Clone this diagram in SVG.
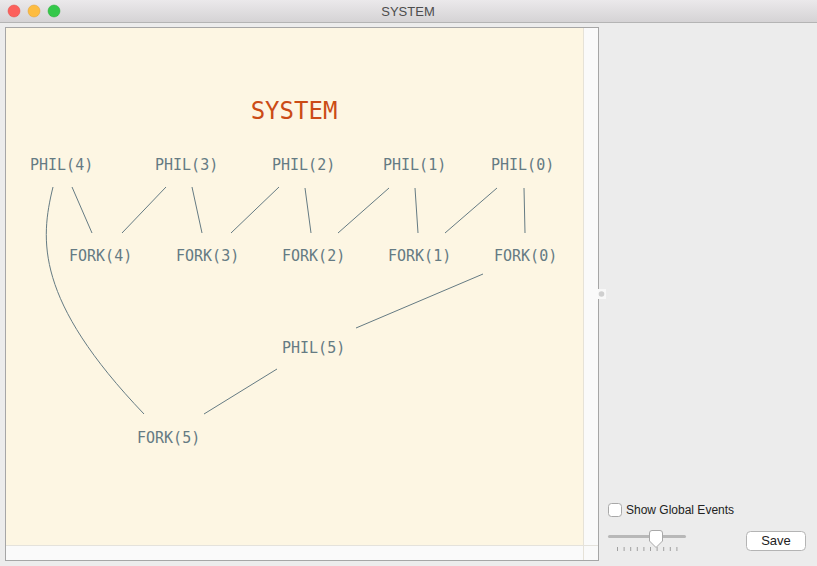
<svg xmlns="http://www.w3.org/2000/svg" width="817" height="566" viewBox="0 0 817 566">
<style>
.node{font-family:"DejaVu Sans Mono","Liberation Mono",monospace;font-size:15px;fill:#657b83}
.title{font-family:"DejaVu Sans Mono","Liberation Mono",monospace;font-size:24px;fill:#cb4b16}
.edge{fill:none;stroke:#657b83;stroke-width:1}
.ui{font-family:"Liberation Sans",Arial,sans-serif;fill:#222}
</style>
<defs>
<linearGradient id="tb" x1="0" y1="0" x2="0" y2="1">
<stop offset="0" stop-color="#ebe9eb"/>
<stop offset="1" stop-color="#d5d3d5"/>
</linearGradient>
</defs>
<!-- window -->
<rect x="0" y="0" width="817" height="566" fill="#ececec"/>
<rect x="0" y="0" width="817" height="22" fill="url(#tb)"/>
<line x1="0" y1="22.5" x2="817" y2="22.5" stroke="#b4b4b4"/>
<circle cx="14" cy="11" r="6" fill="#fc605c" stroke="#de4a45" stroke-width="0.5"/>
<circle cx="34" cy="11" r="6" fill="#fdbc40" stroke="#de9f34" stroke-width="0.5"/>
<circle cx="54" cy="11" r="6" fill="#34c84a" stroke="#27aa35" stroke-width="0.5"/>
<text x="408" y="16" text-anchor="middle" class="ui" font-size="13" fill="#4d4d4d" style="fill:#4d4d4d">SYSTEM</text>
<!-- panel -->
<rect x="5.5" y="27.5" width="593" height="533" fill="#fafafa" stroke="#a6a6a6"/>
<rect x="6" y="28" width="577" height="517" fill="#fdf6e3"/>
<line x1="583.5" y1="28" x2="583.5" y2="560" stroke="#e6e2d8"/>
<line x1="6" y1="545.5" x2="598" y2="545.5" stroke="#e4e2dc"/>
<rect x="598" y="289" width="8" height="10" fill="#f8f8f8"/>
<circle cx="601.5" cy="294" r="2.8" fill="#cfcfcf"/>
<!-- diagram -->
<text x="294" y="119" text-anchor="middle" class="title">SYSTEM</text>
<g id="connectors">
<line class="edge" x1="72" y1="187" x2="92" y2="233"/>
<line class="edge" x1="166" y1="187" x2="122" y2="233"/>
<line class="edge" x1="192" y1="187" x2="202" y2="233"/>
<line class="edge" x1="279" y1="187" x2="231" y2="233"/>
<line class="edge" x1="305" y1="188" x2="311" y2="233"/>
<line class="edge" x1="389" y1="188" x2="338" y2="233"/>
<line class="edge" x1="415" y1="188" x2="418" y2="233"/>
<line class="edge" x1="497" y1="188" x2="445" y2="233"/>
<line class="edge" x1="524" y1="188" x2="525" y2="233"/>
<line class="edge" x1="483" y1="274" x2="356" y2="328"/>
<line class="edge" x1="277" y1="369" x2="204" y2="414"/>
<path class="edge" d="M53,187 C40,240 35,300 144,414"/>
</g>
<g id="phil4"><text class="node" x="30" y="170">PHIL(4)</text></g>
<g id="phil3"><text class="node" x="155" y="170">PHIL(3)</text></g>
<g id="phil2"><text class="node" x="272" y="170">PHIL(2)</text></g>
<g id="phil1"><text class="node" x="383" y="170">PHIL(1)</text></g>
<g id="phil0"><text class="node" x="491" y="170">PHIL(0)</text></g>
<g id="fork4"><text class="node" x="69" y="261">FORK(4)</text></g>
<g id="fork3"><text class="node" x="176" y="261">FORK(3)</text></g>
<g id="fork2"><text class="node" x="282" y="261">FORK(2)</text></g>
<g id="fork1"><text class="node" x="388" y="261">FORK(1)</text></g>
<g id="fork0"><text class="node" x="494" y="261">FORK(0)</text></g>
<g id="phil5"><text class="node" x="282" y="353">PHIL(5)</text></g>
<g id="fork5"><text class="node" x="137" y="443">FORK(5)</text></g>
<!-- controls -->
<rect x="608.5" y="503.5" width="13" height="13" rx="3" fill="#fff" stroke="#a8a8a8"/>
<text x="626" y="514" class="ui" font-size="12">Show Global Events</text>
<rect x="608" y="535" width="78" height="3" rx="1.5" fill="#b8b8b8"/>
<g stroke="#a0a0a0" stroke-width="1">
<line x1="617.5" y1="547" x2="617.5" y2="551"/>
<line x1="624.1" y1="547" x2="624.1" y2="551"/>
<line x1="630.7" y1="547" x2="630.7" y2="551"/>
<line x1="637.3" y1="547" x2="637.3" y2="551"/>
<line x1="643.9" y1="547" x2="643.9" y2="551"/>
<line x1="650.5" y1="547" x2="650.5" y2="551"/>
<line x1="657.1" y1="547" x2="657.1" y2="551"/>
<line x1="663.7" y1="547" x2="663.7" y2="551"/>
<line x1="670.3" y1="547" x2="670.3" y2="551"/>
<line x1="676.9" y1="547" x2="676.9" y2="551"/>
</g>
<path d="M649.5,533 Q649.5,530.5 652,530.5 L660,530.5 Q662.5,530.5 662.5,533 L662.5,541 L656,547.5 L649.5,541 Z" fill="#fff" stroke="#a8a8a8"/>
<rect x="746.5" y="531.5" width="59" height="19" rx="4" fill="#fff" stroke="#b4b4b4"/>
<text x="776" y="545" text-anchor="middle" class="ui" font-size="13">Save</text>
</svg>
